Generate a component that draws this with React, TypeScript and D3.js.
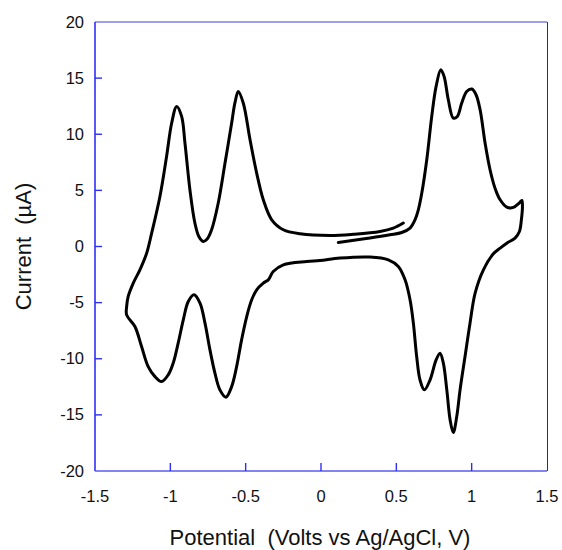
import React from "react";
import * as d3 from "d3";

// Cyclic voltammogram, one continuous scan (start ~0.12 V -> 1.33 V -> -1.29 V -> 0.55 V)
const potential = [
  0.115, 0.325, 0.458, 0.536, 0.591, 0.624, 0.646, 0.669, 0.702, 0.735,
  0.764, 0.795, 0.817, 0.845, 0.878, 0.905, 0.934, 0.967, 1.001, 1.029,
  1.056, 1.089, 1.122, 1.155, 1.189, 1.233, 1.277, 1.315, 1.333, 1.337,
  1.330, 1.317, 1.288, 1.233, 1.189, 1.144, 1.078, 1.023, 0.989, 0.956,
  0.923, 0.901, 0.878, 0.857, 0.835, 0.812, 0.790, 0.764, 0.724, 0.686,
  0.657, 0.635, 0.613, 0.591, 0.558, 0.513, 0.447, 0.325, 0.126, -0.007,
  -0.095, -0.250, -0.317, -0.350, -0.383, -0.427, -0.460, -0.493, -0.527, -0.560,
  -0.593, -0.631, -0.671, -0.704, -0.737, -0.770, -0.803, -0.843, -0.881, -0.914,
  -0.948, -0.981, -1.014, -1.058, -1.102, -1.147, -1.191, -1.235, -1.290, -1.290,
  -1.280, -1.246, -1.202, -1.157, -1.124, -1.069, -1.025, -0.991, -0.958, -0.925,
  -0.903, -0.870, -0.837, -0.810, -0.782, -0.754, -0.726, -0.682, -0.637, -0.593,
  -0.571, -0.549, -0.516, -0.471, -0.427, -0.383, -0.327, -0.250, -0.139, 0.060,
  0.214, 0.392, 0.480, 0.546,
];
const current = [
  0.36, 0.75, 1.04, 1.25, 1.64, 2.38, 3.27, 4.76, 7.73, 11.59,
  14.26, 15.75, 15.15, 13.07, 11.44, 11.59, 12.78, 13.81, 14.03, 13.52,
  12.18, 9.22, 6.84, 5.2, 4.16, 3.51, 3.48, 3.87, 4.1, 3.57,
  2.38, 1.34, 0.75, 0.3, -0.14, -0.65, -2.08, -4.15, -6.83, -9.8,
  -12.77, -15.15, -16.58, -15.45, -12.77, -10.39, -9.5, -10.1, -11.88, -12.77,
  -11.88, -9.8, -6.83, -4.75, -2.97, -1.78, -1.19, -0.94, -1.03, -1.25,
  -1.34, -1.63, -2.23, -2.97, -3.26, -3.86, -4.75, -6.24, -8.32, -10.7,
  -12.48, -13.42, -12.77, -11.28, -9.21, -6.83, -5.04, -4.3, -4.9, -6.53,
  -8.61, -10.39, -11.43, -12.03, -11.59, -10.7, -8.91, -7.13, -6.09, -5.35,
  -4.46, -3.26, -2.08, -0.59, 1.19, 4.46, 8.02, 11.0, 12.48, 11.59,
  9.22, 5.05, 2.09, 0.86, 0.45, 0.69, 1.49, 3.87, 7.43, 11.0,
  12.81, 13.81, 12.78, 9.51, 6.54, 4.16, 2.38, 1.49, 1.13, 0.98,
  1.09, 1.34, 1.64, 2.09,
];

const xTicks = [-1.5, -1, -0.5, 0, 0.5, 1, 1.5];
const yTicks = [-20, -15, -10, -5, 0, 5, 10, 15, 20];
const xLabel = "Potential  (Volts vs Ag/AgCl, V)";
const yLabel = "Current  (\u00B5A)";

const W = 562;
const H = 550;
const left = 95;
const right = 547;
const top = 22;
const bottom = 471;
const axisBlue = "#2f2ff2";
const font = "'Liberation Sans', Arial, sans-serif";

export default function App() {
  const x = d3.scaleLinear().domain([-1.5, 1.5]).range([left, right]);
  const y = d3.scaleLinear().domain([-20, 20]).range([bottom, top]);
  const pts: [number, number][] = potential.map((v, i) => [v, current[i]]);
  const line = d3
    .line<[number, number]>()
    .x((d) => x(d[0]))
    .y((d) => y(d[1]))
    .curve(d3.curveCatmullRom.alpha(0.5));

  return (
    <div style={{ position: "absolute", left: 0, top: 0, width: W, height: H, background: "#fff" }}>
      <svg width={W} height={H} style={{ display: "block" }}>
        <rect x={0} y={0} width={W} height={H} fill="#fff" />
        {/* frame */}
        <line x1={left} x2={right} y1={top} y2={top} stroke="#7c7ce6" strokeWidth={1.6} />
        <line x1={right + 0.5} x2={right + 0.5} y1={top} y2={bottom} stroke="#1a1aff" strokeWidth={1} />
        <line x1={left} x2={left} y1={top} y2={bottom} stroke={axisBlue} strokeWidth={1.6} />
        <line x1={left} x2={right} y1={bottom} y2={bottom} stroke="#5a5aec" strokeWidth={1.6} />
        {/* y ticks */}
        {yTicks.map((t) => (
          <g key={"y" + t}>
            {t !== -20 && t !== 20 && (
              <line x1={left} x2={left + 7} y1={y(t)} y2={y(t)} stroke={axisBlue} strokeWidth={1.4} />
            )}
            <text
              x={left - 11}
              y={y(t) + 5.5}
              textAnchor="end"
              fontFamily={font}
              fontSize={16.5}
              fill="#111"
            >
              {String(t)}
            </text>
          </g>
        ))}
        {/* x ticks */}
        {xTicks.map((t) => (
          <g key={"x" + t}>
            {t !== -1.5 && t !== 1.5 && (
              <line x1={x(t)} x2={x(t)} y1={bottom} y2={bottom - 8} stroke={axisBlue} strokeWidth={1.4} />
            )}
            <text x={x(t)} y={502} textAnchor="middle" fontFamily={font} fontSize={16.5} fill="#111">
              {String(t)}
            </text>
          </g>
        ))}
        {/* curve */}
        <path
          d={line(pts) || ""}
          fill="none"
          stroke="#000"
          strokeWidth={3}
          strokeLinejoin="round"
          strokeLinecap="round"
        />
        {/* axis titles */}
        <text
          x={320}
          y={545}
          textAnchor="middle"
          fontFamily={font}
          fontSize={22}
          fill="#111"
          style={{ whiteSpace: "pre" }}
        >
          {xLabel}
        </text>
        <text
          transform={`translate(31,${(top + bottom) / 2}) rotate(-90)`}
          textAnchor="middle"
          fontFamily={font}
          fontSize={22}
          fill="#111"
          style={{ whiteSpace: "pre" }}
        >
          {yLabel}
        </text>
      </svg>
    </div>
  );
}
